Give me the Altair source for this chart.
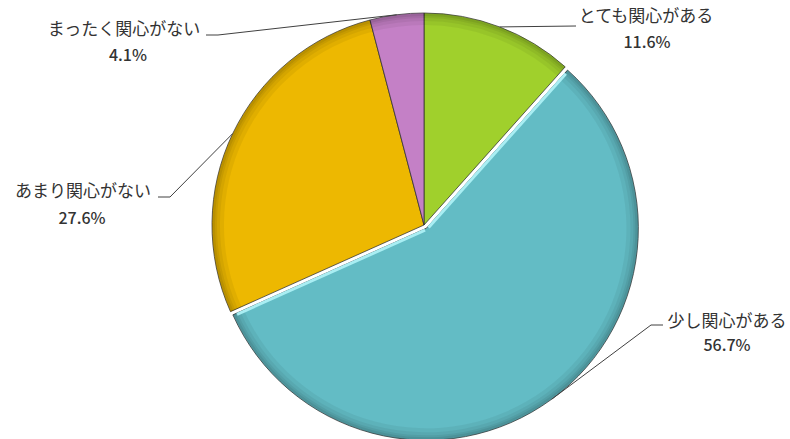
import altair as alt
import pandas as pd
import numpy as np

# ---- data ----
labels = ["とても関心がある", "少し関心がある", "あまり関心がない", "まったく関心がない"]
values = [11.6, 56.7, 27.6, 4.1]
pct_labels = ["11.6%", "56.7%", "27.6%", "4.1%"]
colors = ["#A0D02C", "#63BCC5", "#EDB801", "#C480C6"]

# ---- layout constants ----
W, H = 790, 439
CX, CY, R = 424, 225, 212
EXPLODE = 4  # pixels, for the second slice
label_pos = {  # (x, y) centres of name / percentage lines
    0: (646, 17, 647, 43),
    1: (727, 322, 727, 346),
    2: (83, 192, 82, 219),
    3: (124, 30, 128, 56),
}
leader_tail = {  # elbow and end points of the leader lines
    0: [(576, 26)],
    1: [(651, 325), (663, 325)],
    2: [(170, 197), (158, 197)],
    3: [(218, 35), (206, 35)],
}

df = pd.DataFrame({
    "idx": list(range(len(labels))),
    "label": labels,
    "value": values,
    "pct": pct_labels,
})

vals = np.array(values, dtype=float)
cum = np.cumsum(vals)
frac_end = cum / vals.sum()
frac_start = (cum - vals) / vals.sum()
mid = (cum - vals / 2) / vals.sum() * 2 * np.pi
ex_dx = EXPLODE * np.sin(mid[1])
ex_dy = -EXPLODE * np.cos(mid[1])
ecx, ecy = CX + ex_dx, CY + ex_dy

rows = []
for i in range(len(labels)):
    cx = ecx if i == 1 else CX
    cy = ecy if i == 1 else CY
    ax = cx + R * np.sin(mid[i])
    ay = cy - R * np.cos(mid[i])
    pts = [(ax, ay)] + leader_tail[i]
    for k, (px, py) in enumerate(pts):
        rows.append({"seg": i, "k": k, "px": px, "py": py})
lines_df = pd.DataFrame(rows)

# highlight edges on the exploded slice (bevel look)
hl_rows = []
for j, (a, sgn) in enumerate([(frac_start[1] * 2 * np.pi, 1), (frac_end[1] * 2 * np.pi, -1)]):
    nx, ny = sgn * np.cos(a), sgn * np.sin(a)
    off = 1.2
    x0, y0 = ecx + nx * off + np.sin(a) * 2, ecy + ny * off - np.cos(a) * 2
    x1, y1 = ecx + np.sin(a) * (R - 4) + nx * off, ecy - np.cos(a) * (R - 4) + ny * off
    hl_rows += [{"seg": j, "k": 0, "px": x0, "py": y0}, {"seg": j, "k": 1, "px": x1, "py": y1}]
hl_df = pd.DataFrame(hl_rows)

text_rows = []
for i in range(len(labels)):
    nx_, ny_, px_, py_ = label_pos[i]
    text_rows.append({"t": labels[i], "tx": nx_, "ty": ny_, "kind": "name"})
    text_rows.append({"t": pct_labels[i], "tx": px_, "ty": py_, "kind": "pct"})
text_df = pd.DataFrame(text_rows)

xs = alt.Scale(domain=[0, W], nice=False, zero=False)
ys = alt.Scale(domain=[0, H], nice=False, zero=False, reverse=True)

color = alt.Color("label:N", scale=alt.Scale(domain=labels, range=colors), legend=None)
theta = alt.Theta("value:Q", stack=True)
order = alt.Order("idx:Q")

base = alt.Chart(df)


def slice_layer(exploded, **mark):
    show = "datum.idx == 1" if exploded else "datum.idx != 1"
    return base.mark_arc(**mark).encode(
        theta=theta,
        order=order,
        opacity=alt.condition(show, alt.value(1), alt.value(0)),
        x=alt.value(ecx if exploded else CX),
        y=alt.value(ecy if exploded else CY),
    )


layers = []
for exploded in (False, True):
    layers.append(
        slice_layer(exploded, radius=R, stroke="#2f2f2f", strokeWidth=1,
                    strokeOpacity=0.75).encode(color=color)
    )
    # darker rim rings for a bevelled look
    for w, a in [(12, 0.05), (8, 0.05), (5, 0.06), (3, 0.07)]:
        layers.append(
            slice_layer(exploded, radius=R - 0.5, radius2=R - w, fill="#000000",
                        fillOpacity=a, strokeWidth=0)
        )

highlight = alt.Chart(hl_df).mark_line(color="#A9EEF3", strokeWidth=3).encode(
    x=alt.X("px:Q", scale=xs, axis=None),
    y=alt.Y("py:Q", scale=ys, axis=None),
    detail="seg:N",
    order="k:Q",
)

leaders = alt.Chart(lines_df).mark_line(color="#404040", strokeWidth=1).encode(
    x=alt.X("px:Q", scale=xs, axis=None),
    y=alt.Y("py:Q", scale=ys, axis=None),
    detail="seg:N",
    order="k:Q",
)

names = alt.Chart(text_df).transform_filter("datum.kind == 'name'").mark_text(
    font="Noto Sans CJK JP", fontSize=17, color="#333333", baseline="middle", align="center"
).encode(
    x=alt.X("tx:Q", scale=xs, axis=None),
    y=alt.Y("ty:Q", scale=ys, axis=None),
    text="t:N",
)
pcts = alt.Chart(text_df).transform_filter("datum.kind == 'pct'").mark_text(
    font="Noto Sans CJK JP", fontSize=16, fontWeight=500, color="#333333",
    baseline="middle", align="center"
).encode(
    x=alt.X("tx:Q", scale=xs, axis=None),
    y=alt.Y("ty:Q", scale=ys, axis=None),
    text="t:N",
)

chart = alt.layer(*layers, highlight, leaders, names, pcts).properties(
    width=W, height=H, padding=0, autosize=alt.AutoSizeParams(type="none")
).configure_view(stroke=None)

chart.save("out.html", embed_options={"renderer": "svg", "actions": False})
